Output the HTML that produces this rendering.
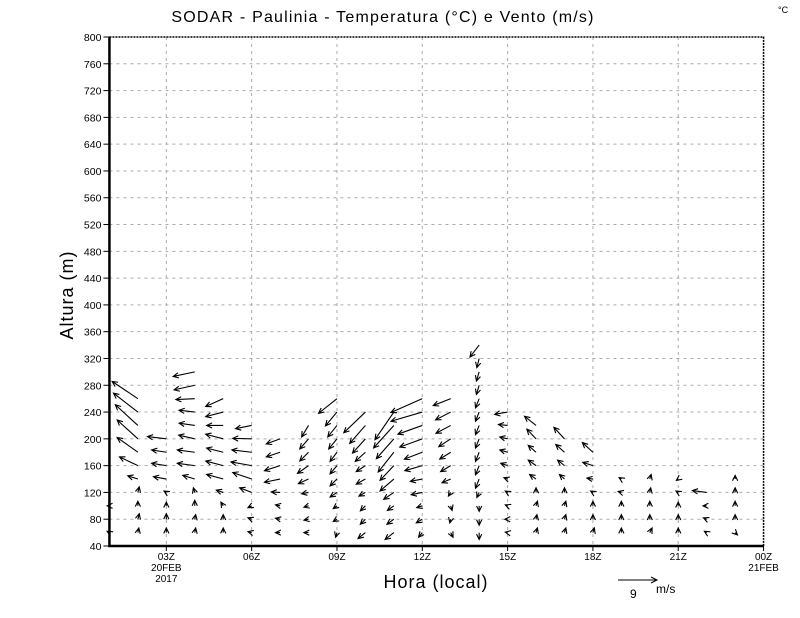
<!DOCTYPE html>
<html><head><meta charset="utf-8">
<style>
html,body{margin:0;padding:0;background:#fff;}
svg{display:block;font-family:"Liberation Sans",sans-serif;}
</style></head>
<body>
<svg id="chart" width="800" height="618" viewBox="0 0 800 618" xmlns="http://www.w3.org/2000/svg">
<text x="383" y="22" font-size="16" letter-spacing="1.2" text-anchor="middle" fill="#000">SODAR - Paulinia - Temperatura (°C) e Vento (m/s)</text>
<text x="778" y="13" font-size="9" fill="#000">°C</text>
<g id="grid"></g>
<g id="axes"></g>
<g id="vectors"></g>
<text transform="translate(73,295) rotate(-90)" font-size="18" letter-spacing="1" text-anchor="middle" fill="#000">Altura (m)</text>
<text x="436" y="588" font-size="18" letter-spacing="1" text-anchor="middle" fill="#000">Hora (local)</text>
<g>
<line x1="618" y1="580" x2="657" y2="580" stroke="#000" stroke-width="1"/>
<polyline points="651,577 657,580 651,583" fill="none" stroke="#000"/>
<text x="630" y="598" font-size="12">9</text>
<text x="656" y="593" font-size="12">m/s</text>
</g>
</svg>
<script>
// Data
var hours = [1,2,3,4,5,6,7,8,9,10,11,12,13,14,15,16,17,18,19,20,21,22,23];
var levels = [60,80,100,120,140,160,180,200,220,240,260,280,300,320,340];
var yTicks = [40,80,120,160,200,240,280,320,360,400,440,480,520,560,600,640,680,720,760,800];
var xTickHours = [3,6,9,12,15,18,21,24];
var xTickLabels = ["03Z","06Z","09Z","12Z","15Z","18Z","21Z","00Z"];
var colU = [
 [-0.5,0,-0.5],
 [0.2,0.3,0,0.3,-2.2,-4,-4.5,-4.5,-4.9,-5.3,-5.6],
 [0,0,0,-0.5,-2.8,-3.2,-3.2,-4.1],
 [0.2,0.2,0,-0.3,-2.6,-3.8,-3.8,-3.5,-3.4,-3.4,-4.1,-4.5,-4.7],
 [0,0,-0.5,-1.5,-3.6,-3.8,-3.6,-3.8,-3.6,-3.8,-3.8],
 [-0.8,-0.8,-0.8,-2.6,-4.1,-4.5,-4.3,-4.1,-3.5],
 [-1,-1,-1,-1.9,-3.4,-3.4,-3,-3],
 [-1,-1,-1,-1.5,-2.2,-2.4,-1.9,-1.9,-1.5],
 [-0.3,-0.8,-0.8,-1.5,-1.5,-1.5,-1.5,-1.8,-2,-2.5,-4],
 [-1.6,-1.1,-1.1,-1.4,-2,-2,-2.2,-2.8,-3.4,-4.7],
 [-1.9,-1.5,-1.4,-2.2,-3,-3,-3.4,-3.8,-4.4,-4.1],
 [-0.8,-1.3,-1.2,-2.4,-2.6,-3.8,-3.9,-4.9,-5.3,-6.8,-6.8],
 [0.5,-0.2,0.3,-0.5,-1.9,-2.2,-2.4,-2.6,-3.2,-3.3,-3.8],
 [0,0,0,-0.5,-0.8,-0.8,-0.8,-0.8,-0.8,-0.8,-0.8,-0.6,-0.6,-0.5,-2],
 [-0.5,-0.6,-0.5,-0.5,-0.8,-1.5,-1.7,-1.7,-2,-2.8],
 [0.3,0.2,0.3,0,-1.4,-1.7,-1.7,-2,-2.5],
 [0.3,0.3,0.3,0,-1.1,-1.5,-1.9,-2.3],
 [0.3,0,0,-0.5,-1.3,-2.2,-2.3],
 [0,0,0,-0.7,-0.5],
 [0.5,0,0,0.2,0.3],
 [0,0,0,-0.5,-0.4],
 [-0.5,-0.7,-0.8,-3.1],
 [0.5,0,0,0,0]
];
var colV = [
 [0.3,0,0],
 [1,1.2,1,1.2,0.7,1.9,3.2,4.1,4.5,4.1,3.75],
 [1,1.2,0.8,0.3,0.5,0.5,0.5,0.5],
 [1,1,1.2,1,0.8,0.5,0.5,0.8,0.5,0.4,-0.2,-1,-1],
 [1,1,0.8,0.5,1,1,0.9,1,0,-1,-1.7],
 [0.2,0.3,-0.4,1,1.4,0.8,0.5,0.1,-0.7],
 [0,0.2,0.2,0.1,-0.7,-1.1,-1,-1.1],
 [0,-0.2,-0.3,-0.3,-1,-1.7,-1.9,-2.2,-2.5],
 [-1,-0.5,-0.6,-1,-1.5,-1.8,-2,-2.2,-2.5,-3,-3.2],
 [-1.3,-1.1,-1.1,-0.8,-1.1,-1.3,-2,-3.1,-3.9,-4.5],
 [-1.5,-1.1,-1,-1.5,-2.6,-3.2,-4.3,-4.3,-4.9,-6],
 [-1,-0.8,-0.4,-0.5,-0.5,-1.1,-1.5,-1.8,-1.9,-2,-3],
 [-1,-0.8,-1,-0.8,-0.8,-1.3,-1.5,-1.7,-1.7,-1.7,-1.5],
 [-1.5,-1.3,-1.2,-1.1,-2,-2,-2,-2,-2,-2,-2,-2,-2,-2,-2.6],
 [0.1,0,0.2,0.3,0.3,0.5,0.5,0.4,0.2,-0.5],
 [1,1,1,1,1,1.2,1.5,2.1,2],
 [1,1,1,1,1,1.2,1.7,2.5],
 [1,1,1,0.3,0.2,0.7,2.1],
 [1,1,1,0.2,0.3],
 [1,1,1,1,1],
 [1,1,0.8,0.3,-0.3],
 [0.3,0.3,0,0.4],
 [-0.5,1,1,1,0.8]
];

// Axis functions
var X0=81, PXH=28.44, YB=546, YT=37, M0=40, M1=800, PXMS=4.6;
function xs(h){return X0+h*PXH;}
function ys(m){return YB-(m-M0)*(YB-YT)/(M1-M0);}
var NS="http://www.w3.org/2000/svg";
function mk(tag,attrs,parent){var e=document.createElementNS(NS,tag);for(var k in attrs)e.setAttribute(k,attrs[k]);parent.appendChild(e);return e;}
var grid=document.getElementById('grid'), axes=document.getElementById('axes'), vec=document.getElementById('vectors');
var L=xs(1), R=xs(24);

yTicks.forEach(function(t){
  var y=ys(t);
  if(t>40&&t<800){var g=mk('line',{x1:L,x2:R,y1:y,y2:y,stroke:'#aaa','stroke-width':1,'stroke-dasharray':'3,4'},grid);
  
  }
  var tk=mk('line',{x1:L-6,x2:L,y1:y,y2:y,stroke:'#000','stroke-width':1},axes);
  
  
  var tx=mk('text',{x:L-8,y:y+4,'font-size':10.5,'text-anchor':'end',fill:'#000'},axes);
  
  
  tx.textContent=t;
});
xTickHours.forEach(function(h,i){
  var x=xs(h);
  if(h<24){var g=mk('line',{x1:x,x2:x,y1:YT,y2:YB,stroke:'#aaa','stroke-width':1,'stroke-dasharray':'3,4'},grid);
  
  }
  var tk=mk('line',{x1:x,x2:x,y1:YB,y2:YB+5,stroke:'#000'},axes);
  
  
  var tx=mk('text',{x:x,y:YB+14,'font-size':10,'text-anchor':'middle',fill:'#000'},axes);
  
  
  tx.textContent=xTickLabels[i];
});
[["20FEB",3,25],["2017",3,36],["21FEB",24,25]].forEach(function(d){
  var tx=mk('text',{x:xs(d[1]),y:YB+d[2],'font-size':10,'text-anchor':'middle',fill:'#000'},axes);
  
  
  tx.textContent=d[0];
});
var fr=mk('path',{d:'M'+L+' '+YT+' H'+R+' V'+YB,fill:'none',stroke:'#000','stroke-width':1.5,'stroke-dasharray':'2,1'},axes);


var ax=mk('path',{d:'M'+L+' '+YT+' V'+YB+' H'+R,fill:'none',stroke:'#000','stroke-width':2.5},axes);



hours.forEach(function(h,ci){
  var us=colU[ci], vs=colV[ci];
  for(var i=0;i<us.length;i++){
    var x0=xs(h), y0=ys(levels[i]);
    var dx=us[i]*PXMS, dy=-vs[i]*PXMS;
    var x1=x0+dx, y1=y0+dy;
    var len=Math.sqrt(dx*dx+dy*dy)||1, ux=dx/len, uy=dy/len, hs=6;
    var ca=Math.cos(0.45), sa=Math.sin(0.45);
    var ax1=x1-hs*(ux*ca-uy*sa), ay1=y1-hs*(uy*ca+ux*sa);
    var ax2=x1-hs*(ux*ca+uy*sa), ay2=y1-hs*(uy*ca-ux*sa);
    var p=mk('path',{d:'M'+x0+' '+y0+' L'+x1+' '+y1+' M'+ax1+' '+ay1+' L'+x1+' '+y1+' L'+ax2+' '+ay2,fill:'none',stroke:'#000','stroke-width':1.1},vec);
    
    
  }
});
</script>
</body></html>
